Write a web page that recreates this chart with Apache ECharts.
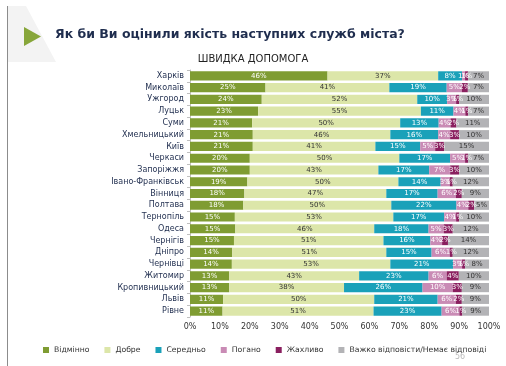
<!DOCTYPE html>
<html><head><meta charset="utf-8">
<script src="https://cdn.jsdelivr.net/npm/echarts@6/dist/echarts.min.js"></script>
<style>html,body{margin:0;padding:0;background:#fff;}#c{width:506px;height:366px;}</style>
</head><body><div id="c"></div>
<script>
var cities = ['Харків','Миколаїв','Ужгород','Луцьк','Суми','Хмельницький','Київ','Черкаси','Запоріжжя','Івано-Франківськ','Вінниця','Полтава','Тернопіль','Одеса','Чернігів','Дніпро','Чернівці','Житомир','Кропивницький','Львів','Рівне'];
var seriesNames = ['Відмінно','Добре','Середньо','Погано','Жахливо','Важко відповісти/Немає відповіді'];
var excellent = [46,25,24,23,21,21,21,20,20,19,18,18,15,15,15,14,14,13,13,11,11];
var good      = [37,41,52,55,50,46,41,50,43,50,47,50,53,46,51,51,53,43,38,50,51];
var average   = [8,19,10,11,13,16,15,17,17,14,17,22,17,18,16,15,21,23,26,21,23];
var bad       = [1,5,3,4,4,4,5,5,7,3,6,4,4,5,4,6,3,6,10,6,6];
var terrible  = [1,2,1,1,2,3,3,1,3,1,2,2,1,3,2,1,1,4,3,2,1];
var noAnswer  = [7,7,10,7,11,10,15,7,10,12,9,5,10,12,14,12,8,10,9,9,9];
var xTicks = ['0%','10%','20%','30%','40%','50%','60%','70%','80%','90%','100%'];

var raw = [excellent, good, average, bad, terrible, noAnswer];
var colors = ['#7f9c32','#dce6a9','#1aa1b9','#c98bb5','#8a1f5f','#b3b3b6'];
var labelColors = ['#fff','#333','#fff','#fff','#fff','#333'];
var totals = cities.map(function(_, i){ var s=0; raw.forEach(function(a){ s+=a[i]; }); return s; });

var series = raw.map(function(arr, k){
  return {
    name: seriesNames[k], type: 'bar', stack: 'all', barWidth: '78%',
    itemStyle: {color: colors[k]},
    label: {show: true, position: 'inside', fontSize: 7, fontFamily: 'DejaVu Sans', color: labelColors[k],
      formatter: function(p){ return arr[p.dataIndex] + '%'; }},
    data: arr.map(function(v, i){ return v / totals[i] * 100; })
  };
});

var chart = echarts.init(document.getElementById('c'));
chart.setOption({
  animation: false,
  textStyle: {fontFamily: 'DejaVu Sans'},
  grid: {left: 190, right: 17, top: 70, bottom: 49, containLabel: false},
  xAxis: {type: 'value', min: 0, max: 100, interval: 10,
    axisLine: {show: false}, axisTick: {show: false}, splitLine: {show: false},
    axisLabel: {fontSize: 8, color: '#333', margin: 6, formatter: function(v){ return xTicks[Math.round(v/10)]; }}},
  yAxis: {type: 'category', inverse: true, data: cities,
    axisLine: {show: true, lineStyle: {color: '#bfbfbf'}}, axisTick: {show: true, length: 3, lineStyle: {color: '#bfbfbf'}},
    axisLabel: {fontSize: 8, color: '#1f2d4e', margin: 6}},
  legend: {bottom: 7, left: 38, itemWidth: 6, itemHeight: 6, itemGap: 15, icon: 'rect',
    textStyle: {fontSize: 7.7, color: '#333'}, data: seriesNames},
  series: series,
  graphic: [
    {type: 'polygon', shape: {points: [[8,6],[26,6],[56,62],[8,62]]}, style: {fill: '#f3f3f3'}, z: -1},
    {type: 'line', shape: {x1: 7.5, y1: 6, x2: 7.5, y2: 366}, style: {stroke: '#8c8c8c', lineWidth: 1}},
    {type: 'polygon', shape: {points: [[24,27],[41,36.5],[24,46]]}, style: {fill: '#87a63a'}},
    {type: 'text', left: 55, top: 28, style: {text: 'Як би Ви оцінили якість наступних служб міста?', font: 'bold 12.5px "DejaVu Sans"', fill: '#1f2d4e'}},
    {type: 'text', left: 'center', top: 54, style: {text: 'ШВИДКА ДОПОМОГА', font: '10px "DejaVu Sans"', fill: '#222'}},
    {type: 'text', left: 455, top: 353, style: {text: '56', font: '8px "DejaVu Sans"', fill: '#bbb'}}
  ]
});
</script></body></html>
